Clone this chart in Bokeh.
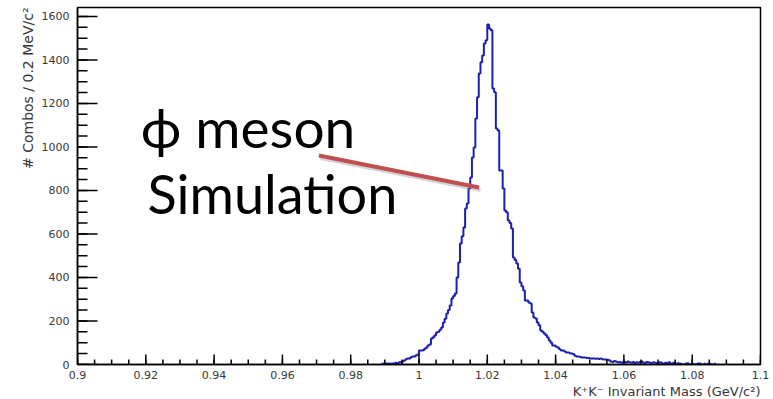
from bokeh.plotting import figure
from bokeh.models import (Range1d, FixedTicker, CustomJSTickFormatter, Title, Label)
from bokeh.embed import file_html
from bokeh.resources import INLINE

# ---- data ----
bin_start = 0.989      # GeV/c^2, lower edge of first filled bin
bin_width = 0.0005     # GeV/c^2
counts = [
    3, 5, 3, 5, 5, 3, 5, 5, 8, 5,
    10, 10, 14, 18, 24, 28, 28, 33, 37, 37,
    42, 46, 64, 64, 66, 72, 78, 87, 92, 120,
    125, 135, 147, 150, 160, 170, 193, 210, 234, 250,
    271, 303, 315, 326, 400, 469, 556, 590, 630, 717,
    740, 809, 860, 952, 998, 1131, 1228, 1338, 1389, 1420,
    1476, 1490, 1563, 1545, 1536, 1269, 1251, 1085, 1076, 892,
    892, 809, 708, 700, 662, 650, 625, 492, 480, 464,
    440, 377, 360, 340, 294, 294, 285, 280, 239, 216,
    211, 193, 180, 156, 150, 142, 135, 124, 110, 100,
    87, 87, 82, 78, 70, 64, 64, 60, 55, 55,
    52, 51, 48, 40, 37, 37, 34, 32, 32, 32,
    30, 30, 28, 28, 28, 26, 28, 25, 28, 24,
    23, 23, 22, 20, 14, 12, 16, 14, 10, 12,
    8, 10, 12, 8, 14, 10, 8, 12, 6, 10,
    8, 12, 14, 8, 6, 12, 10, 8, 6, 10,
    8, 6, 8, 10, 6, 4, 8, 6, 10, 4,
    6, 8, 4, 6, 5, 3, 0, 0, 5, 6,
    0, 0, 4, 0, 0, 5, 5, 0, 0, 3,
    0, 4, 3, 0, 0, 3,
]
x_ticks = [0.90, 0.92, 0.94, 0.96, 0.98, 1.00, 1.02, 1.04, 1.06, 1.08, 1.10]
x_minor = [round(0.9 + 0.005 * i, 3) for i in range(41)]
y_ticks = [0, 200, 400, 600, 800, 1000, 1200, 1400, 1600]
y_minor = list(range(0, 1650, 50))
x_title = "K\u207aK\u207b Invariant Mass (GeV/c\u00b2)"
y_title = "# Combos / 0.2 MeV/c\u00b2"
note_lines = ["\u03d5 meson", "Simulation"]
pointer_x = [0.9707, 1.0176]
pointer_y = [961, 814]

X0, X1, Y0, Y1 = 0.9, 1.1, 0, 1641
edges = [bin_start + bin_width * i for i in range(len(counts) + 1)]
step_y = counts + [counts[-1]]

p = figure(width=773, height=399, output_backend="svg", toolbar_location=None,
           x_range=Range1d(X0, X1), y_range=Range1d(Y0, Y1),
           min_border_left=77, min_border_right=13, min_border_top=7,
           min_border_bottom=35)
p.background_fill_color = "white"
p.border_fill_color = "white"
p.grid.visible = False
p.outline_line_color = "black"
p.outline_line_width = 1.5

p.step(x=edges, y=step_y, mode="after", line_color="#1f1fb0", line_width=2)

# axes (ticks drawn inside the frame, ROOT style)
xa = p.xaxis[0]
xa.ticker = FixedTicker(ticks=x_ticks, minor_ticks=x_minor)
xa.formatter = CustomJSTickFormatter(code="return String(+tick.toFixed(3));")
ya = p.yaxis[0]
ya.ticker = FixedTicker(ticks=y_ticks, minor_ticks=y_minor)
for ax in (xa, ya):
    ax.major_tick_in = 0
    ax.major_tick_out = 0
    ax.minor_tick_in = 0
    ax.minor_tick_out = 0
    ax.axis_line_width = 1.5
    ax.major_label_text_font = "DejaVu Sans"
    ax.major_label_text_font_size = "11px"
    ax.major_label_text_color = "#383838"
xa.major_label_standoff = 6
ya.major_label_standoff = 8

px_per_x = 683.0 / (X1 - X0)
px_per_y = 357.0 / (Y1 - Y0)
# y ticks
p.segment(x0=[X0] * len(y_ticks), y0=y_ticks, x1=[X0 + 20 / px_per_x] * len(y_ticks),
          y1=y_ticks, line_color="black", line_width=1.5)
p.segment(x0=[X0] * len(y_minor), y0=y_minor, x1=[X0 + 10 / px_per_x] * len(y_minor),
          y1=y_minor, line_color="black", line_width=1.5)
# x ticks
p.segment(x0=x_ticks, y0=[Y0] * len(x_ticks), x1=x_ticks,
          y1=[Y0 + 10 / px_per_y] * len(x_ticks), line_color="black", line_width=1.5)
p.segment(x0=x_minor, y0=[Y0] * len(x_minor), x1=x_minor,
          y1=[Y0 + 5 / px_per_y] * len(x_minor), line_color="black", line_width=1.5)

p.add_layout(Title(text=x_title, align="right", text_font="DejaVu Sans",
                   text_font_size="13px", text_font_style="normal",
                   text_color="#383838", standoff=0), "below")
p.add_layout(Title(text=y_title, align="right", text_font="DejaVu Sans",
                   text_font_size="14px", text_font_style="normal",
                   text_color="#383838", standoff=6), "left")

# annotation
p.line(x=[v + 0.0004 for v in pointer_x], y=[v - 12 for v in pointer_y],
       line_color="#888888", line_width=4, line_alpha=0.35)
p.line(x=pointer_x, y=pointer_y, line_color="#c0504d", line_width=4)

p.add_layout(Label(x=0.9185, y=1090, text=note_lines[0], text_font="Lato",
                   text_font_size="55px", text_color="black",
                   text_baseline="alphabetic"))
p.add_layout(Label(x=0.9205, y=786, text=note_lines[1], text_font="Lato",
                   text_font_size="54px", text_color="black",
                   text_baseline="alphabetic"))

open("out.html", "w").write(file_html(p, INLINE))
